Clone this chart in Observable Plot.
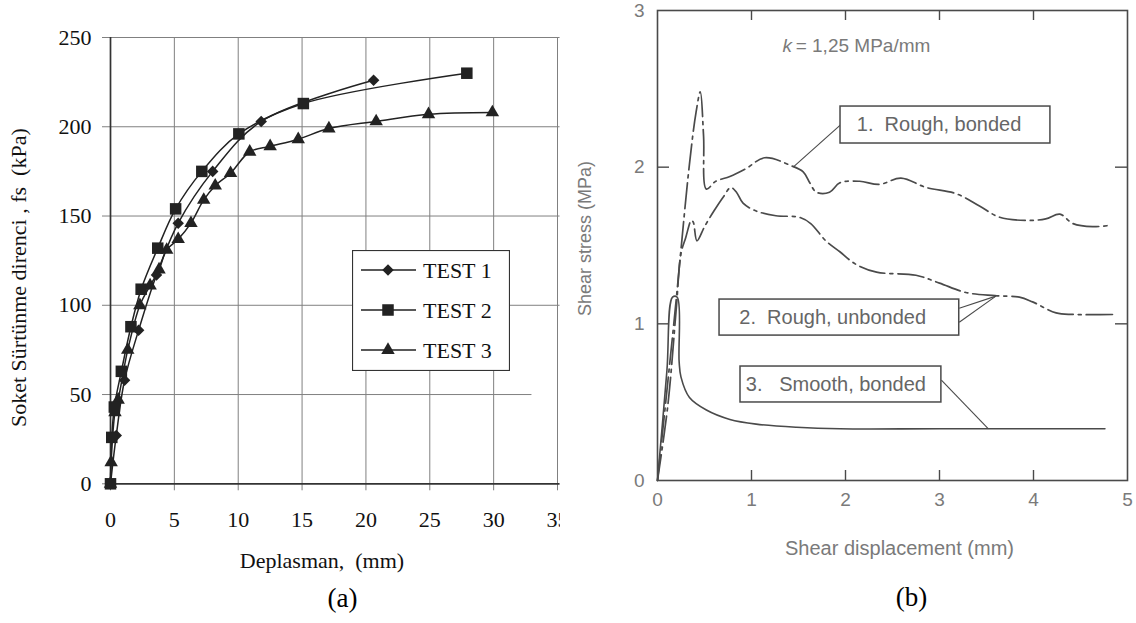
<!DOCTYPE html>
<html>
<head>
<meta charset="utf-8">
<script src="https://cdn.jsdelivr.net/npm/d3@7"></script>
<script src="https://cdn.jsdelivr.net/npm/@observablehq/plot@0.6"></script>
<style>
  html, body { margin: 0; padding: 0; background: #fff; }
  #wrap { position: relative; width: 1136px; height: 623px; overflow: hidden; background: #fff; }
  #wrap > svg, #wrap > div { position: absolute; }
</style>
</head>
<body>
<div id="wrap"></div>
<script>
// ---------- Panel (a) data ----------
const test1X = [0, 0.45, 1.1, 2.2, 3.6, 5.3, 8.0, 11.8, 20.6];
const test1Y = [0, 27, 58, 86, 117, 146, 175, 203, 226];
const test2X = [0, 0.1, 0.3, 0.85, 1.6, 2.4, 3.7, 5.1, 7.15, 10.05, 15.1, 27.9];
const test2Y = [0, 26, 43, 63, 88, 109, 132, 154, 175, 196, 213, 230];
const test3X = [0, 0.05, 0.35, 0.6, 1.35, 2.3, 3.1, 3.8, 4.4, 5.3, 6.3, 7.3, 8.2, 9.4, 10.9, 12.5, 14.7, 17.1, 20.8, 24.9, 29.9];
const test3Y = [0, 12, 40, 47, 75, 100, 111, 120, 131, 137, 146, 159, 167, 174, 186, 189, 193, 199, 203, 207, 208];
const testNames = ["TEST 1", "TEST 2", "TEST 3"];
const xTicksA = [0, 5, 10, 15, 20, 25, 30, 35];
const yTicksA = [0, 50, 100, 150, 200, 250];

// ---------- Panel (b) data ----------
const c1X = [0, 0.18, 0.34, 0.41, 0.455, 0.49, 0.52, 0.62, 0.77, 0.94, 1.14, 1.42, 1.55, 1.62, 1.69, 1.83, 1.94, 2.15, 2.36, 2.59, 2.86, 3.18, 3.43, 3.64, 3.92, 4.13, 4.28, 4.42, 4.63, 4.83];
const c1Y = [0, 1.04, 2.02, 2.35, 2.48, 2.2, 1.86, 1.91, 1.94, 1.99, 2.06, 2.01, 1.97, 1.90, 1.84, 1.84, 1.90, 1.91, 1.89, 1.93, 1.87, 1.83, 1.75, 1.68, 1.66, 1.67, 1.70, 1.64, 1.62, 1.63];
const c2X = [0, 0.11, 0.2, 0.25, 0.3, 0.36, 0.38, 0.42, 0.5, 0.6, 0.7, 0.78, 0.84, 0.91, 1.05, 1.26, 1.51, 1.63, 1.79, 1.94, 2.11, 2.33, 2.75, 3.0, 3.28, 3.59, 3.85, 3.99, 4.24, 4.42, 4.88];
const c2Y = [0, 0.48, 1.1, 1.45, 1.55, 1.66, 1.65, 1.53, 1.62, 1.72, 1.81, 1.87, 1.84, 1.77, 1.72, 1.69, 1.68, 1.64, 1.53, 1.46, 1.38, 1.33, 1.31, 1.26, 1.20, 1.18, 1.17, 1.14, 1.07, 1.06, 1.06];
const c3X = [0, 0.1, 0.16, 0.21, 0.23, 0.25, 0.34, 0.52, 0.77, 1.05, 1.48, 1.94, 3.0, 4.76];
const c3Y = [0, 0.7, 1.17, 1.17, 0.76, 0.66, 0.53, 0.45, 0.39, 0.36, 0.34, 0.33, 0.33, 0.33];
const xTicksB = [0, 1, 2, 3, 4, 5];
const yTicksB = [0, 1, 2, 3];
const innerTicksX = [1, 2, 3, 4];
const innerTicksY = [1, 2];
const curveLabels = ["1.  Rough, bonded", "2.  Rough, unbonded", "3.   Smooth, bonded"];

// annotation layout (data units of panel b)
const boxes = [
  {x1: 1.947, x2: 4.18, y1: 2.151, y2: 2.387, tx: 2.12, ty: 2.27},
  {x1: 0.66, x2: 3.21, y1: 0.925, y2: 1.155, tx: 0.87, ty: 1.04},
  {x1: 0.883, x2: 3.02, y1: 0.498, y2: 0.7275, tx: 0.94, ty: 0.612}
];
const leaders = [
  {x1: 1.947, y1: 2.27, x2: 1.443, y2: 2.0},
  {x1: 3.21, y1: 1.10, x2: 3.6, y2: 1.177},
  {x1: 3.21, y1: 1.01, x2: 3.6, y2: 1.177},
  {x1: 3.02, y1: 0.64, x2: 3.52, y2: 0.33}
];

const rows = (xs, ys) => xs.map((x, i) => ({x, y: ys[i]}));
const t1 = rows(test1X, test1Y), t2 = rows(test2X, test2Y), t3 = rows(test3X, test3Y);
const b1 = rows(c1X, c1Y), b2 = rows(c2X, c2Y), b3 = rows(c3X, c3Y);

const serif = "'Liberation Serif', 'Times New Roman', serif";
const sans = "'Liberation Sans', Arial, sans-serif";
const ink = "#222";
const grid = "#808080";

// ---------- Panel (a) ----------
const plotA = Plot.plot({
  width: 560, height: 623,
  marginLeft: 110, marginRight: 3, marginTop: 37, marginBottom: 139.7,
  x: {domain: [0, 35]},
  y: {domain: [0, 250]},
  style: {fontFamily: serif, fontSize: "22px", color: "#111", background: "transparent", overflow: "hidden"},
  marks: [
    Plot.gridX(xTicksA.slice(1), {stroke: grid, strokeOpacity: 1}),
    Plot.axisX(xTicksA, {tickSize: 7, tickPadding: 21, stroke: grid, fill: "#111", label: null}),
    Plot.ruleY(yTicksA.slice(1), {x1: 0, x2: d => d === 50 ? 33 : 35.2, stroke: grid}),
    Plot.axisY(yTicksA, {tickSize: 8, tickPadding: 11, stroke: grid, fill: "#111", label: null}),
    Plot.ruleY([0], {x1: 0, x2: 35.2, stroke: "#333", strokeWidth: 1.7}),
    Plot.ruleX([0], {y1: 0, y2: 250, stroke: "#333", strokeWidth: 1.7}),
    Plot.line(t1, {x: "x", y: "y", curve: "catmull-rom", stroke: ink, strokeWidth: 1.5}),
    Plot.line(t2, {x: "x", y: "y", curve: "catmull-rom", stroke: ink, strokeWidth: 1.5}),
    Plot.line(t3, {x: "x", y: "y", curve: "catmull-rom", stroke: ink, strokeWidth: 1.5}),
    Plot.dot(t3, {x: "x", y: "y", symbol: "triangle", r: 5, fill: ink, stroke: "none"}),
    Plot.dot(t1, {x: "x", y: "y", symbol: "diamond2", r: 5.2, fill: ink, stroke: "none"}),
    Plot.dot(t2, {x: "x", y: "y", symbol: "square", r: 6.5, fill: ink, stroke: "none"}),
    Plot.text(["Deplasman,  (mm)"], {frameAnchor: "bottom", dy: 84, dx: -12, fill: "#111", fontSize: 22}),
    Plot.text(["Soket Sürtünme direnci , fs  (kPa)"], {frameAnchor: "left", textAnchor: "middle", rotate: -90, dx: -92, dy: 17, fill: "#111", fontSize: 22}),
    Plot.text(["(a)"], {frameAnchor: "bottom", dy: 123, dx: 8.5, fill: "#000", fontSize: 27})
  ]
});
plotA.style.left = "0px";
plotA.style.top = "0px";

// ---------- Panel (b) ----------
const bW = 576, bH = 623, bML = 97, bMR = 9, bMT = 10, bMB = 143;
const frameW = bW - bML - bMR, frameH = bH - bMT - bMB;
const lineGray = "#4a4a4a";
const textGray = "#7a7a7a";
const dash = "26,5,3,5";
const plotB = Plot.plot({
  width: bW, height: bH,
  marginLeft: bML, marginRight: bMR, marginTop: bMT, marginBottom: bMB,
  x: {domain: [0, 5]},
  y: {domain: [0, 3]},
  style: {fontFamily: sans, fontSize: "19px", color: textGray, background: "transparent"},
  marks: [
    Plot.frame({stroke: lineGray, strokeWidth: 1.6}),
    Plot.axisX(xTicksB, {tickSize: 0, tickPadding: 12, tickFormat: d => String(d), fill: textGray, label: null}),
    Plot.axisY(yTicksB, {tickSize: 0, tickPadding: 13, tickFormat: d => String(d), fill: textGray, label: null}),
    Plot.tickX(innerTicksX, {x: d => d, insetTop: frameH - 10, stroke: lineGray, strokeWidth: 1.4}),
    Plot.tickX(innerTicksX, {x: d => d, insetBottom: frameH - 10, stroke: lineGray, strokeWidth: 1.4}),
    Plot.tickY(innerTicksY, {y: d => d, insetRight: frameW - 12, stroke: lineGray, strokeWidth: 1.4}),
    Plot.tickY(innerTicksY, {y: d => d, insetLeft: frameW - 12, stroke: lineGray, strokeWidth: 1.4}),
    Plot.line(b3, {x: "x", y: "y", curve: "catmull-rom", stroke: lineGray, strokeWidth: 1.6}),
    Plot.line(b2, {x: "x", y: "y", curve: "catmull-rom", stroke: lineGray, strokeWidth: 1.7, strokeDasharray: dash}),
    Plot.line(b1, {x: "x", y: "y", curve: "catmull-rom", stroke: lineGray, strokeWidth: 1.7, strokeDasharray: dash}),
    Plot.link(leaders, {x1: "x1", y1: "y1", x2: "x2", y2: "y2", stroke: lineGray, strokeWidth: 1.1}),
    Plot.rect(boxes, {x1: "x1", x2: "x2", y1: "y1", y2: "y2", fill: "white", stroke: lineGray, strokeWidth: 1.5}),
    Plot.text(boxes, {x: "tx", y: "ty", text: (d, i) => curveLabels[i], textAnchor: "start", fill: "#666", fontSize: 20}),
    Plot.text(["k"], {x: [1.33], y: [2.776], textAnchor: "start", fill: textGray, fontSize: 19, fontStyle: "italic"}),
    Plot.text(["= 1,25 MPa/mm"], {x: [1.47], y: [2.776], textAnchor: "start", fill: textGray, fontSize: 19}),
    Plot.text(["Shear displacement (mm)"], {frameAnchor: "bottom", dy: 74, dx: 7, fill: textGray, fontSize: 20}),
    Plot.text(["Shear stress (MPa)"], {frameAnchor: "left", textAnchor: "middle", rotate: -90, dx: -72, dy: -7, fill: textGray, fontSize: 18}),
    Plot.text(["(b)"], {frameAnchor: "bottom", dy: 125, dx: 19, fill: "#000", fontSize: 27, fontFamily: serif})
  ]
});
plotB.style.left = "560px";
plotB.style.top = "0px";

// ---------- Legend for panel (a) ----------
const legSymbols = [d3.symbolDiamond2, d3.symbolSquare, d3.symbolTriangle];
const legRadii = [5.2, 6.5, 5];
const leg = d3.create("svg")
  .attr("width", 158).attr("height", 121)
  .style("left", "352px").style("top", "250px");
leg.append("rect").attr("x", 0.5).attr("y", 0.5).attr("width", 157).attr("height", 120)
  .attr("fill", "white").attr("stroke", "#333").attr("stroke-width", 1.2);
testNames.forEach((name, i) => {
  const g = leg.append("g").attr("transform", `translate(0,${20 + 40 * i})`);
  g.append("line").attr("x1", 9).attr("x2", 64).attr("stroke", ink).attr("stroke-width", 1.5);
  g.append("path").attr("transform", "translate(36,0)")
    .attr("d", d3.symbol(legSymbols[i], Math.PI * legRadii[i] * legRadii[i])()).attr("fill", ink);
  g.append("text").attr("x", 71).attr("dy", "0.35em")
    .style("font-family", serif).style("font-size", "22px").attr("fill", "#111").text(name);
});

const wrap = document.getElementById("wrap");
wrap.appendChild(plotA);
wrap.appendChild(plotB);
wrap.appendChild(leg.node());
</script>
</body>
</html>
